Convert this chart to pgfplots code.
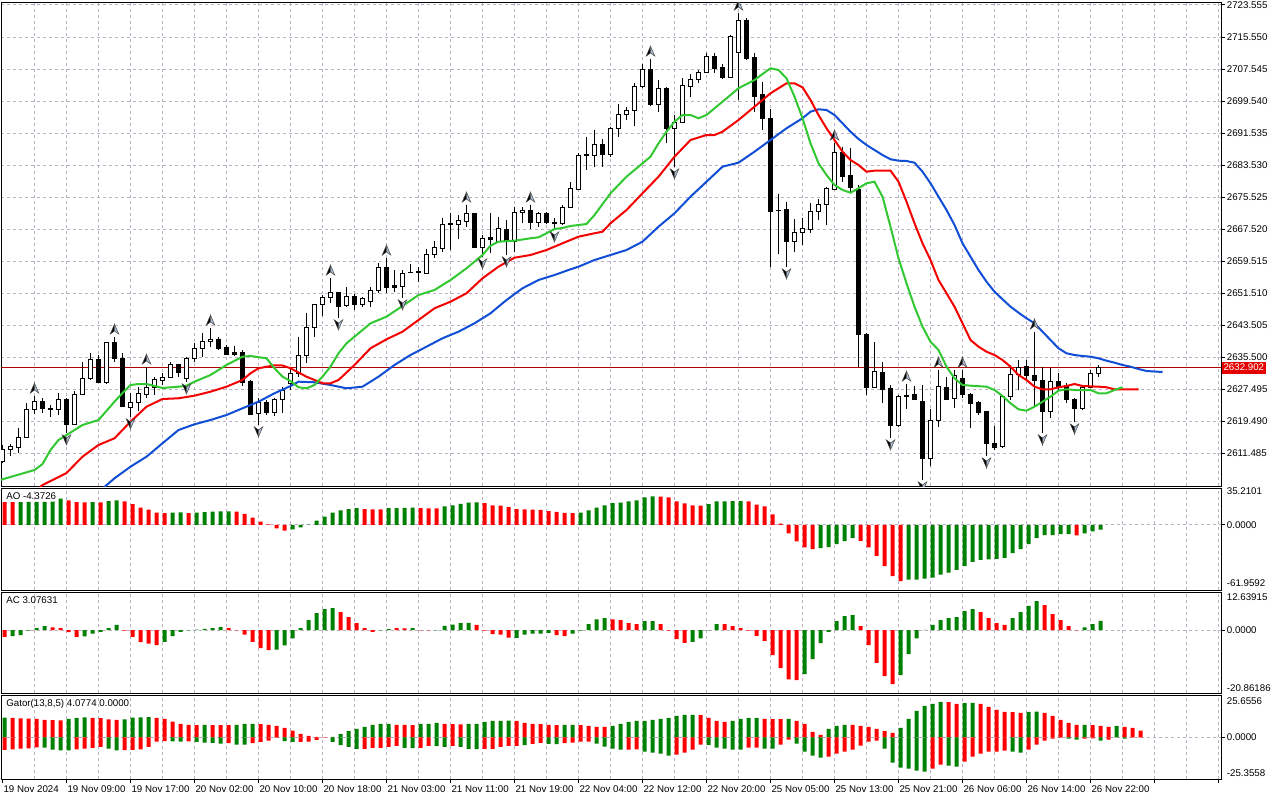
\documentclass[border=0pt]{standalone}
\usepackage{fontspec}
\setmainfont{Liberation Sans}
\usepackage{pgfplots}
\usepackage{pgfplotstable}
\pgfplotsset{compat=1.18}

\definecolor{mtgreen}{RGB}{0,128,0}
\definecolor{mtred}{RGB}{255,0,0}
\definecolor{jaw}{RGB}{16,78,214}
\definecolor{teeth}{RGB}{245,0,0}
\definecolor{lips}{RGB}{50,200,50}
\definecolor{gridc}{RGB}{190,176,196}
\definecolor{bidline}{RGB}{176,0,0}
\definecolor{pricebox}{RGB}{228,0,0}
\definecolor{fracfill}{RGB}{170,185,210}

\pgfplotstableread{
k O H L C
0 2609.55 2613.55 2609.05 2612.55
1 2612.55 2613.80 2610.80 2613.30
2 2613.05 2617.80 2611.55 2615.55
3 2615.55 2624.05 2615.55 2622.55
4 2622.55 2625.80 2621.30 2624.55
5 2624.55 2625.30 2621.55 2622.80
6 2622.68 2623.55 2620.55 2622.43
7 2622.55 2626.55 2621.05 2625.05
8 2625.05 2625.30 2616.55 2618.80
9 2618.80 2627.05 2618.55 2626.30
10 2626.30 2634.30 2626.05 2630.30
11 2630.30 2636.55 2629.80 2635.05
12 2635.05 2636.05 2629.05 2629.30
13 2629.30 2639.30 2628.80 2639.30
14 2639.30 2640.55 2634.30 2635.30
15 2635.30 2636.55 2623.05 2623.30
16 2623.05 2626.55 2620.55 2624.30
17 2624.30 2628.05 2622.05 2626.55
18 2626.30 2633.05 2625.30 2628.05
19 2628.05 2630.55 2626.05 2630.05
20 2629.80 2631.55 2628.55 2630.55
21 2630.55 2634.30 2630.30 2633.80
22 2633.80 2633.80 2630.55 2631.80
23 2630.30 2635.55 2629.30 2635.30
24 2635.30 2639.05 2634.30 2637.80
25 2637.80 2641.55 2635.55 2639.55
26 2639.55 2642.80 2638.05 2640.05
27 2640.05 2640.55 2637.30 2637.80
28 2638.05 2638.55 2636.05 2636.30
29 2636.80 2638.30 2635.80 2636.30
30 2636.80 2637.30 2628.30 2629.30
31 2629.55 2629.80 2621.05 2621.30
32 2621.55 2625.30 2618.55 2624.30
33 2624.30 2624.80 2621.05 2621.80
34 2621.80 2625.30 2620.80 2625.05
35 2625.05 2628.05 2621.55 2627.30
36 2629.05 2633.05 2627.30 2631.55
37 2631.55 2640.55 2630.55 2636.05
38 2636.05 2646.55 2634.05 2643.05
39 2643.05 2648.80 2640.55 2648.80
40 2648.80 2651.05 2645.80 2650.55
41 2650.55 2655.30 2649.05 2651.80
42 2651.80 2651.80 2645.30 2648.30
43 2648.55 2653.05 2648.05 2650.80
44 2650.80 2651.30 2647.30 2648.80
45 2648.80 2650.55 2648.05 2650.30
46 2649.55 2653.05 2648.05 2652.30
47 2652.30 2659.05 2651.55 2658.05
48 2658.05 2660.30 2651.55 2653.05
49 2653.55 2657.30 2651.80 2653.05
50 2653.30 2657.30 2650.30 2656.55
51 2656.80 2658.80 2656.55 2656.68
52 2656.93 2658.05 2654.30 2656.80
53 2656.55 2662.55 2656.55 2661.30
54 2661.30 2664.55 2660.30 2663.05
55 2662.80 2670.30 2661.80 2668.80
56 2668.80 2671.55 2662.30 2668.90
57 2668.80 2671.05 2665.05 2669.80
58 2669.55 2673.55 2668.05 2671.55
59 2671.55 2671.55 2662.80 2663.05
60 2663.05 2666.05 2660.55 2665.30
61 2665.55 2671.55 2661.55 2665.05
62 2664.55 2670.55 2664.30 2667.80
63 2667.55 2669.80 2661.05 2664.55
64 2664.55 2673.05 2661.80 2671.80
65 2671.80 2673.05 2669.05 2672.30
66 2672.30 2673.55 2667.55 2669.30
67 2669.30 2671.80 2668.05 2671.55
68 2671.55 2671.80 2668.80 2669.30
69 2669.30 2670.30 2667.30 2669.05
70 2669.05 2673.55 2668.55 2673.05
71 2673.05 2679.30 2672.80 2677.80
72 2677.55 2686.55 2677.30 2686.05
73 2686.05 2690.55 2682.30 2686.18
74 2686.05 2692.30 2683.05 2688.80
75 2688.80 2690.05 2683.05 2686.30
76 2686.30 2693.05 2685.55 2692.80
77 2692.80 2698.80 2690.55 2696.30
78 2696.30 2698.05 2694.80 2697.30
79 2697.30 2704.05 2693.30 2703.30
80 2703.30 2708.80 2702.80 2707.55
81 2707.55 2710.05 2698.30 2698.80
82 2698.80 2704.80 2696.80 2702.80
83 2702.80 2703.05 2689.05 2692.80
84 2692.80 2696.05 2683.05 2694.30
85 2694.30 2705.30 2694.05 2703.55
86 2703.30 2706.30 2700.55 2705.05
87 2705.05 2707.30 2704.05 2706.80
88 2706.80 2711.55 2706.55 2710.80
89 2710.80 2711.55 2706.55 2707.80
90 2708.05 2708.80 2705.05 2705.55
91 2705.55 2716.05 2705.55 2715.80
92 2711.80 2721.55 2699.80 2719.80
93 2719.80 2720.30 2709.80 2710.30
94 2710.55 2711.55 2696.80 2700.80
95 2701.30 2704.30 2692.30 2695.30
96 2695.30 2697.55 2658.05 2672.05
97 2672.30 2676.30 2661.30 2672.18
98 2672.55 2674.30 2658.05 2664.55
99 2664.55 2670.05 2661.80 2666.80
100 2666.80 2670.30 2663.55 2667.80
101 2667.55 2674.05 2666.55 2672.05
102 2672.05 2675.05 2669.80 2673.80
103 2673.80 2678.05 2668.55 2677.80
104 2677.55 2689.05 2677.30 2686.80
105 2686.80 2688.05 2679.30 2680.80
106 2681.05 2687.80 2676.80 2678.05
107 2677.55 2678.55 2633.05 2641.30
108 2641.30 2641.55 2626.05 2628.05
109 2628.05 2639.30 2628.05 2632.05
110 2631.80 2634.30 2624.05 2627.55
111 2627.80 2628.55 2615.30 2618.55
112 2618.55 2626.05 2618.05 2625.80
113 2625.93 2628.80 2622.55 2625.80
114 2626.30 2628.30 2624.80 2625.05
115 2624.55 2628.55 2604.80 2610.30
116 2610.30 2622.55 2608.30 2619.80
117 2619.80 2632.30 2618.05 2628.30
118 2628.05 2630.55 2624.80 2625.05
119 2625.30 2632.30 2622.80 2631.05
120 2630.30 2632.30 2625.30 2626.30
121 2626.30 2626.55 2617.80 2624.05
122 2624.30 2624.55 2621.05 2621.80
123 2622.05 2622.05 2610.80 2614.05
124 2614.05 2618.30 2612.30 2613.05
125 2613.30 2626.05 2612.80 2625.80
126 2625.80 2633.55 2624.80 2631.30
127 2631.30 2634.80 2627.30 2633.05
128 2633.30 2634.80 2629.80 2631.05
129 2631.05 2641.80 2623.05 2629.80
130 2629.80 2633.05 2616.55 2622.05
131 2622.05 2632.80 2620.30 2629.55
132 2629.55 2631.55 2627.30 2628.30
133 2628.55 2629.05 2624.05 2625.05
134 2625.05 2625.30 2619.30 2622.80
135 2622.80 2628.05 2622.30 2628.05
136 2628.05 2632.30 2627.80 2631.55
137 2631.55 2633.55 2630.55 2632.90
}\candles

\pgfplotstableread{
k v
-1 2604.5
0 2604.98
4 2607.3
5 2608.8
6 2612.3
7 2614.8
8 2616.05
10 2618.55
12 2619.8
14 2624.38
15 2626.55
16 2628.55
17 2628.8
18 2628.8
20 2627.8
22 2628.13
23 2628.38
24 2629.38
26 2631.05
28 2633.55
30 2635.63
31 2635.8
33 2635.23
34 2632.73
35 2630.63
36 2629.55
37 2627.98
38 2627.73
39 2628.55
40 2630.63
41 2633.13
42 2636.48
43 2638.98
44 2640.63
46 2643.98
48 2645.63
50 2648.3
52 2651.05
54 2652.3
56 2654.8
58 2657.73
60 2661.05
61 2663.38
62 2664.38
64 2664.63
66 2665.23
67 2665.48
68 2666.48
69 2667.55
70 2667.8
71 2668.3
72 2668.55
73 2668.8
74 2671.05
76 2676.48
78 2680.63
80 2683.98
81 2685.63
82 2688.98
83 2691.88
84 2694.38
85 2696.05
86 2696.05
87 2695.23
88 2696.05
90 2699.38
92 2702.73
94 2704.8
95 2706.3
96 2707.73
97 2707.3
98 2705.23
99 2700.63
100 2695.23
101 2688.98
102 2683.98
103 2681.05
104 2678.55
105 2677.3
106 2676.63
107 2677.73
108 2678.98
109 2679.38
110 2675.63
111 2668.13
112 2660.23
113 2653.98
114 2648.13
115 2643.13
116 2639.38
117 2637.3
118 2633.13
119 2630.23
120 2628.55
121 2628.38
123 2628.13
124 2627.3
125 2625.8
126 2623.98
127 2622.48
128 2622.13
129 2623.13
130 2624.38
131 2625.63
132 2627.13
133 2627.48
134 2627.3
136 2627.3
137 2626.48
138 2626.48
139 2627.3
140 2627.98
}\lipsline

\pgfplotstableread{
k v
4 2601.8
5 2603.55
8 2606.55
10 2610.63
12 2613.55
14 2615.23
16 2619.38
18 2623.13
20 2625.05
22 2625.23
24 2625.88
26 2626.88
28 2628.13
30 2629.8
31 2631.48
32 2632.73
34 2633.48
35 2633.43
36 2632.73
38 2630.63
40 2628.98
41 2628.98
42 2629.8
44 2633.55
46 2637.73
48 2639.98
50 2641.88
52 2644.8
54 2647.73
56 2649.38
58 2651.48
60 2655.23
62 2658.13
64 2660.38
66 2661.05
68 2662.3
70 2663.98
72 2665.63
74 2666.48
75 2666.88
76 2668.98
78 2672.3
80 2676.48
82 2680.63
84 2685.63
86 2689.8
88 2691.05
89 2691.05
90 2691.88
92 2694.8
94 2698.13
96 2701.48
98 2703.98
99 2703.98
100 2702.98
101 2699.8
102 2696.05
103 2692.73
104 2689.8
105 2686.88
106 2684.8
107 2683.55
108 2681.88
109 2682.13
111 2682.13
112 2679.38
113 2674.38
114 2668.98
115 2663.98
116 2659.8
117 2654.8
118 2651.48
119 2648.13
120 2643.98
121 2639.8
122 2638.13
123 2636.88
124 2636.05
125 2634.8
126 2633.13
127 2631.05
128 2629.8
129 2628.13
130 2627.48
131 2627.48
132 2627.98
133 2628.3
134 2628.8
135 2628.3
137 2628.13
138 2627.98
139 2627.48
142 2627.48
}\teethline

\pgfplotstableread{
k v
12 2601.8
14 2605.23
16 2608.13
18 2610.63
20 2613.98
22 2617.3
24 2618.73
26 2619.8
28 2621.05
30 2622.73
32 2624.38
34 2626.48
36 2628.3
37 2629.38
39 2629.23
41 2628.55
43 2627.73
45 2628.13
47 2630.63
49 2633.55
51 2636.05
53 2638.13
55 2640.23
57 2641.88
59 2643.98
61 2646.48
63 2649.8
65 2652.73
67 2654.8
69 2656.05
71 2657.48
72 2658.13
74 2659.8
76 2661.05
78 2662.3
80 2664.38
82 2668.13
84 2671.48
86 2675.63
88 2679.38
90 2683.13
92 2684.13
94 2686.88
96 2689.8
98 2692.73
100 2695.23
101 2696.88
102 2697.48
103 2697.3
104 2696.05
105 2693.98
106 2691.88
107 2690.05
108 2688.55
109 2687.3
110 2686.05
111 2684.98
112 2684.63
113 2684.55
114 2684.13
115 2681.88
116 2678.98
117 2675.63
118 2672.3
119 2668.55
120 2663.98
121 2660.63
122 2657.3
123 2654.38
124 2651.88
125 2649.98
126 2648.13
127 2646.63
128 2645.23
129 2643.98
130 2641.88
131 2639.8
132 2637.73
133 2636.48
134 2636.05
135 2635.8
136 2635.63
137 2635.23
138 2634.63
139 2634.13
140 2633.55
141 2633.13
142 2632.55
143 2632.05
145 2631.8
}\jawline

\pgfplotstableread{
k v
4 2625.80
14 2640.55
18 2633.05
26 2642.80
41 2655.30
48 2660.30
58 2673.55
66 2673.55
81 2710.05
92 2721.55
104 2689.05
113 2628.80
117 2632.30
120 2632.30
129 2641.80
}\fracup

\pgfplotstableread{
k v
8 2616.55
16 2620.55
23 2629.30
32 2618.55
42 2645.30
50 2650.30
60 2660.55
63 2661.05
69 2667.30
84 2683.05
98 2658.05
111 2615.30
115 2604.80
123 2610.80
130 2616.55
134 2619.30
}\fracdown

% AO: v = value, g = 1 for a green bar, 0 for a red bar
\pgfplotstableread{
k v g
0 21.8 0
1 21.7 0
2 21.8 1
3 21.9 1
4 22.0 1
5 22.1 1
6 22.2 1
7 25.0 1
8 23.4 0
9 21.8 0
10 21.6 0
11 21.8 1
12 21.6 0
13 22.7 1
14 23.4 1
15 22.4 0
16 19.8 0
17 16.6 0
18 14.7 0
19 11.8 0
20 11.2 0
21 11.8 1
22 12.0 1
23 11.2 0
24 11.8 1
25 12.2 1
26 12.8 1
27 12.9 1
28 13.0 1
29 12.8 0
30 10.6 0
31 7.0 0
32 3.2 0
33 0.6 0
34 -3.2 0
35 -5.4 0
36 -4.2 1
37 -2.2 1
38 0.3 1
39 4.2 1
40 8.0 1
41 11.8 1
42 13.8 1
43 15.0 1
44 16.0 1
45 15.0 0
46 14.9 0
47 14.8 0
48 16.0 1
49 16.1 1
50 16.2 1
51 16.6 1
52 16.0 0
53 15.9 0
54 15.8 0
55 17.6 1
56 18.6 1
57 20.2 1
58 21.4 1
59 21.5 1
60 20.8 0
61 18.6 0
62 18.5 0
63 17.0 0
64 15.0 0
65 14.9 0
66 14.7 0
67 14.4 0
68 13.1 0
69 12.5 0
70 11.5 0
71 11.2 0
72 11.8 1
73 13.8 1
74 16.6 1
75 18.6 1
76 20.8 1
77 21.4 1
78 22.4 1
79 23.4 1
80 26.2 1
81 27.2 1
82 27.1 0
83 26.2 0
84 22.4 0
85 20.5 0
86 18.6 0
87 18.5 0
88 19.8 1
89 22.4 1
90 22.5 1
91 22.6 1
92 22.7 1
93 22.5 0
94 19.5 0
95 17.6 0
96 10.2 0
97 1.3 0
98 -7.9 0
99 -15.7 0
100 -21.4 0
101 -22.9 0
102 -22.0 1
103 -21.0 1
104 -18.2 1
105 -15.4 1
106 -12.6 1
107 -15.1 0
108 -21.4 0
109 -29.5 0
110 -39.3 0
111 -48.7 0
112 -53.4 0
113 -52.1 1
114 -52.0 1
115 -51.2 1
116 -50.2 1
117 -47.4 1
118 -45.5 1
119 -42.7 1
120 -39.3 1
121 -35.2 1
122 -33.3 1
123 -32.7 1
124 -32.3 1
125 -31.4 1
126 -26.7 1
127 -22.9 1
128 -18.2 1
129 -12.6 1
130 -9.7 1
131 -9.6 1
132 -8.8 1
133 -8.7 1
134 -10.0 0
135 -7.9 1
136 -6.0 1
137 -4.37 1
}\aodata

\pgfplotstableread{
k v g
0 -2.2 0
1 -2.0 1
2 -1.7 1
3 -0.2 1
4 0.7 1
5 1.3 1
6 0.9 0
7 0.7 0
8 -0.7 0
9 -2.2 0
10 -2.1 1
11 -1.2 1
12 -0.6 1
13 0.7 1
14 1.7 1
15 -0.2 0
16 -2.2 0
17 -4.0 0
18 -4.5 0
19 -5.0 0
20 -3.9 1
21 -2.0 1
22 -0.6 1
23 -0.1 1
24 0.2 1
25 0.4 1
26 0.7 1
27 1.0 1
28 0.7 0
29 -0.1 0
30 -1.5 0
31 -3.9 0
32 -6.0 0
33 -6.6 0
34 -6.5 1
35 -5.1 1
36 -2.7 1
37 0.7 1
38 3.3 1
39 5.6 1
40 7.0 1
41 7.3 1
42 6.0 0
43 4.3 0
44 2.3 0
45 0.7 0
46 -0.6 0
47 -0.1 1
48 0.3 1
49 0.7 0
50 0.6 0
51 0.7 1
52 -0.1 0
53 -0.1 0
54 -0.05 1
55 1.4 1
56 1.8 1
57 2.3 1
58 2.4 1
59 1.7 0
60 -0.2 0
61 -1.3 0
62 -1.5 0
63 -2.5 0
64 -2.6 1
65 -1.5 1
66 -1.2 1
67 -1.2 1
68 -0.9 1
69 -1.7 0
70 -2.0 0
71 -1.2 1
72 -0.2 1
73 2.0 1
74 3.6 1
75 4.0 1
76 3.6 0
77 3.3 0
78 2.3 0
79 2.0 0
80 3.0 1
81 3.0 1
82 2.0 0
83 -0.2 0
84 -3.0 0
85 -4.2 0
86 -3.9 1
87 -2.7 1
88 -0.1 1
89 2.0 1
90 2.0 0
91 1.3 0
92 0.7 0
93 -0.2 0
94 -1.9 0
95 -3.6 0
96 -8.3 0
97 -12.6 0
98 -16.3 0
99 -16.6 0
100 -14.6 1
101 -9.6 1
102 -4.3 1
103 -0.6 1
104 3.0 1
105 4.6 1
106 5.0 1
107 1.3 0
108 -5.0 0
109 -10.9 0
110 -15.3 0
111 -17.9 0
112 -14.9 1
113 -8.0 1
114 -2.7 1
115 0.1 1
116 1.7 1
117 3.3 1
118 4.0 1
119 4.3 1
120 6.3 1
121 7.0 1
122 6.0 0
123 4.0 0
124 2.3 0
125 1.7 0
126 4.0 1
127 6.0 1
128 8.0 1
129 9.6 1
130 8.3 0
131 5.3 0
132 3.3 0
133 1.3 0
134 -0.1 0
135 0.9 1
136 2.0 1
137 3.08 1
}\acdata

% Gator: up/lo = upper/lower histogram, ug/lg = 1 for green, 0 for red
\pgfplotstableread{
k up ug lo lg
0 11.9 1 -7.7 0
1 11.7 0 -7.3 0
2 11.5 0 -6.9 0
3 11.3 0 -6.7 0
4 11.1 0 -6.1 0
5 10.5 0 -6.3 1
6 10.4 0 -7.5 1
7 10.3 0 -7.9 1
8 11.1 1 -8.0 1
9 11.7 1 -7.3 0
10 12.1 1 -6.9 0
11 11.7 0 -6.5 0
12 11.6 0 -5.9 0
13 10.9 0 -6.9 1
14 10.5 0 -7.9 1
15 10.9 1 -7.8 0
16 11.9 1 -7.7 0
17 12.1 1 -7.3 0
18 12.3 1 -5.9 0
19 11.7 0 -2.6 0
20 11.1 0 -2.4 0
21 9.5 0 -2.45 1
22 8.1 0 -2.6 1
23 7.5 0 -2.55 0
24 7.4 0 -2.8 1
25 7.5 1 -3.2 1
26 7.4 0 -3.4 1
27 7.35 0 -3.8 1
28 7.3 0 -3.6 0
29 7.5 1 -4.5 1
30 8.1 1 -4.5 1
31 8.15 1 -3.6 0
32 8.0 0 -2.8 0
33 7.5 0 -2.0 0
34 6.9 0 -0.2 0
35 5.7 0 -2.3 1
36 4.0 0 -2.8 1
37 2.0 0 -2.8 0
38 0.8 0 -2.6 0
39 0.2 0 -1.6 0
40 0.05 0 -0.1 0
41 0.2 1 -2.8 1
42 2.0 1 -4.7 1
43 3.8 1 -5.9 1
44 5.1 1 -7.1 1
45 6.3 1 -7.1 0
46 7.5 1 -6.5 0
47 8.1 1 -6.5 0
48 8.15 1 -5.9 0
49 7.5 0 -5.3 0
50 7.45 0 -6.5 1
51 7.4 0 -6.55 1
52 8.1 1 -6.5 0
53 8.15 1 -5.3 0
54 8.7 1 -5.35 1
55 8.1 0 -5.9 1
56 8.0 0 -5.3 0
57 7.9 0 -5.9 1
58 8.1 1 -7.1 1
59 8.2 1 -7.15 1
60 9.3 1 -7.1 0
61 9.9 1 -7.0 0
62 10.0 1 -5.9 0
63 10.1 1 -5.3 0
64 9.9 0 -5.2 0
65 8.7 0 -4.7 1
66 8.1 0 -4.0 0
67 8.0 0 -3.4 0
68 7.5 0 -4.0 1
69 7.4 0 -4.1 1
70 7.5 1 -3.6 0
71 7.55 1 -3.2 0
72 7.4 0 -2.6 0
73 6.9 0 -2.6 0
74 6.3 0 -3.8 1
75 6.25 0 -5.7 1
76 6.9 1 -6.9 1
77 8.1 1 -7.5 1
78 9.3 1 -7.5 0
79 9.9 1 -7.4 0
80 9.95 1 -8.7 1
81 10.5 1 -9.3 1
82 11.1 1 -9.9 1
83 11.7 1 -11.1 1
84 13.0 1 -10.5 0
85 13.6 1 -9.3 0
86 13.65 1 -7.5 0
87 13.5 0 -4.5 0
88 11.7 0 -4.55 1
89 9.9 0 -6.3 1
90 9.3 0 -6.9 1
91 9.9 1 -7.5 1
92 11.1 1 -7.55 1
93 11.7 1 -6.3 0
94 11.75 1 -6.25 0
95 11.1 0 -6.9 1
96 11.05 0 -6.95 1
97 11.0 0 -4.5 0
98 11.1 1 -1.4 0
99 9.9 0 -3.8 1
100 8.1 0 -8.7 1
101 3.2 0 -11.1 1
102 1.4 0 -12.3 1
103 5.1 1 -11.7 0
104 6.9 1 -9.9 0
105 7.5 1 -8.7 0
106 7.45 0 -7.5 0
107 6.9 0 -5.1 0
108 6.3 0 -2.6 0
109 5.1 0 -2.0 0
110 3.8 0 -6.9 1
111 2.6 0 -15.4 1
112 5.7 1 -18.4 1
113 11.1 1 -19.0 1
114 16.0 1 -20.2 1
115 19.0 1 -20.8 1
116 20.2 1 -19.0 0
117 21.5 1 -16.6 0
118 21.4 0 -17.2 1
119 20.2 0 -17.8 1
120 20.8 1 -14.8 0
121 20.85 1 -11.7 0
122 20.2 0 -9.9 0
123 18.4 0 -8.7 0
124 16.6 0 -8.65 0
125 15.4 0 -8.1 0
126 15.3 0 -8.7 1
127 14.8 0 -9.3 1
128 15.4 1 -7.5 0
129 15.5 1 -4.5 0
130 14.8 0 -2.0 0
131 13.0 0 -0.8 0
132 10.5 0 -0.2 0
133 8.7 0 -0.8 1
134 7.5 0 -1.4 1
135 7.55 1 -0.8 0
136 7.4 0 -0.75 0
137 6.9 0 -2.0 1
138 6.3 0 -1.4 0
139 6.9 1 0.0 0
140 6.3 0 -0.8 1
141 5.7 0 0.0 0
142 4.08 0 0.0 0
}\gatordata

\pgfdeclareplotmark{fup}{%
  \pgfpathmoveto{\pgfqpoint{0pt}{9.6pt}}%
  \pgfpathlineto{\pgfqpoint{-3.2pt}{2.2pt}}%
  \pgfpathlineto{\pgfqpoint{0pt}{4.5pt}}%
  \pgfpathclose
  \pgfsetfillcolor{black}\pgfusepath{fill,stroke}%
  \pgfpathmoveto{\pgfqpoint{0pt}{9.6pt}}%
  \pgfpathlineto{\pgfqpoint{3.2pt}{2.2pt}}%
  \pgfpathlineto{\pgfqpoint{0pt}{4.5pt}}%
  \pgfpathclose
  \pgfsetfillcolor{fracfill}\pgfusepath{fill,stroke}%
}
\pgfdeclareplotmark{fdown}{%
  \pgfpathmoveto{\pgfqpoint{0pt}{-8.8pt}}%
  \pgfpathlineto{\pgfqpoint{-3.2pt}{-1.4pt}}%
  \pgfpathlineto{\pgfqpoint{0pt}{-3.7pt}}%
  \pgfpathclose
  \pgfsetfillcolor{black}\pgfusepath{fill,stroke}%
  \pgfpathmoveto{\pgfqpoint{0pt}{-8.8pt}}%
  \pgfpathlineto{\pgfqpoint{3.2pt}{-1.4pt}}%
  \pgfpathlineto{\pgfqpoint{0pt}{-3.7pt}}%
  \pgfpathclose
  \pgfsetfillcolor{fracfill}\pgfusepath{fill,stroke}%
}

\pgfplotsset{
  mtaxis/.style={
    scale only axis, anchor=north west, width=915pt,
    xmin=-0.1875, xmax=152.3125, enlargelimits=false,
    clip mode=individual,
    axis line style={black, line width=0.75pt},
    xtick={8,16,...,152}, minor xtick={4,12,...,148},
    xmajorgrids, xminorgrids, ymajorgrids,
    major grid style={gridc, line width=0.75pt, dash pattern=on 2.25pt off 2.25pt},
    minor grid style={gridc, line width=0.75pt, dash pattern=on 2.25pt off 2.25pt},
    xticklabels={},
    tick style={black, line width=0.75pt},
    xtick style={draw=none},
    ytick pos=right, yticklabel pos=right,
    tick align=outside, major tick length=3pt, minor tick length=0pt,
    yticklabel style={anchor=west, inner sep=0pt, xshift=1.2pt},
    tick label style={font=\fontsize{7.3}{8.8}\selectfont},
    unbounded coords=discard,
  },
  histbar/.style={ybar, bar width=3pt, bar shift=1.5pt, draw=none, forget plot},
}

\begin{document}
\begin{tikzpicture}[font=\fontsize{7.3}{8.8}\selectfont]
\path[use as bounding box, fill=white] (0,0) rectangle (960pt,-600pt);

% ---------------- main price panel ----------------
\begin{axis}[mtaxis, at={(0.75pt,-1.5pt)}, height=363pt,
  ymin=2603.3, ymax=2724.3, clip marker paths=true,
  ytick={2611.485,2619.49,2627.495,2635.5,2643.505,2651.51,2659.515,2667.52,2675.525,2683.53,2691.535,2699.54,2707.545,2715.55,2723.555},
  yticklabels={2611.485,2619.490,2627.495,2635.500,2643.505,2651.510,2659.515,2667.520,2675.525,2683.530,2691.535,2699.540,2707.545,2715.550,2723.555}]
\addplot[bidline, line width=0.75pt, forget plot] coordinates {(-1,2632.902) (160,2632.902)};
\pgfplotstablegetrowsof{\candles}
\pgfmathtruncatemacro{\nlast}{\pgfplotsretval-1}
\pgfplotsforeachungrouped \i in {0,...,\nlast}{%
  \pgfplotstablegetelem{\i}{k}\of\candles\let\ck\pgfplotsretval
  \pgfplotstablegetelem{\i}{O}\of\candles\let\co\pgfplotsretval
  \pgfplotstablegetelem{\i}{H}\of\candles\let\ch\pgfplotsretval
  \pgfplotstablegetelem{\i}{L}\of\candles\let\cl\pgfplotsretval
  \pgfplotstablegetelem{\i}{C}\of\candles\let\cc\pgfplotsretval
  \pgfmathsetmacro{\xa}{\ck-0.28}%
  \pgfmathsetmacro{\xb}{\ck+0.28}%
  \pgfmathtruncatemacro{\isup}{\cc>\co}%
  \ifnum\isup=1 \def\bfill{white}\else\def\bfill{black}\fi
  \edef\doplot{%
    \noexpand\addplot[black, line width=0.75pt, forget plot] coordinates {(\ck,\cl) (\ck,\ch)};
    \noexpand\addplot[draw=black, fill=\bfill, line width=0.75pt, forget plot] coordinates {(\xa,\co) (\xb,\co) (\xb,\cc) (\xa,\cc) (\xa,\co)};
  }%
  \doplot
}
\addplot[jaw, line width=1.5pt, forget plot] table[x=k, y=v] {\jawline};
\addplot[teeth, line width=1.5pt, forget plot] table[x=k, y=v] {\teethline};
\addplot[lips, line width=1.5pt, forget plot] table[x=k, y=v] {\lipsline};
\addplot[only marks, mark=fup, mark options={draw=black!75, line width=0.35pt}, forget plot] table[x=k, y=v] {\fracup};
\addplot[only marks, mark=fdown, mark options={draw=black!75, line width=0.35pt}, forget plot] table[x=k, y=v] {\fracdown};
\node[fill=pricebox, text=white, anchor=west, inner xsep=1.3pt, inner ysep=0pt, minimum height=9pt, xshift=0.4pt] at (axis cs:152.3125,2632.902) {2632.902};
\end{axis}

% ---------------- AO ----------------
\begin{axis}[mtaxis, at={(0.75pt,-366pt)}, height=76.5pt,
  ymin=-61.9592, ymax=35.2101, ytick={0}, yticklabels={0.0000}]
\addplot[histbar, fill=mtgreen] table[x=k, y expr={\thisrow{g}>0.5 ? \thisrow{v} : nan}] {\aodata};
\addplot[histbar, fill=mtred] table[x=k, y expr={\thisrow{g}<0.5 ? \thisrow{v} : nan}] {\aodata};
\node[anchor=north west, inner sep=0pt, xshift=3.8pt, yshift=-3pt] at (rel axis cs:0,1) {AO -4.3726};
\node[anchor=west, inner sep=0pt, xshift=4.2pt, yshift=-2.3pt] at (rel axis cs:1,1) {35.2101};
\node[anchor=west, inner sep=0pt, xshift=4.2pt, yshift=5.2pt] at (rel axis cs:1,0) {-61.9592};
\end{axis}

% ---------------- AC ----------------
\begin{axis}[mtaxis, at={(0.75pt,-444pt)}, height=75.75pt,
  ymin=-20.86186, ymax=12.63915, ytick={0}, yticklabels={0.0000}]
\addplot[histbar, fill=mtgreen] table[x=k, y expr={\thisrow{g}>0.5 ? \thisrow{v} : nan}] {\acdata};
\addplot[histbar, fill=mtred] table[x=k, y expr={\thisrow{g}<0.5 ? \thisrow{v} : nan}] {\acdata};
\node[anchor=north west, inner sep=0pt, xshift=3.8pt, yshift=-3pt] at (rel axis cs:0,1) {AC 3.07631};
\node[anchor=west, inner sep=0pt, xshift=4.2pt, yshift=-3.8pt] at (rel axis cs:1,1) {12.63915};
\node[anchor=west, inner sep=0pt, xshift=4.2pt, yshift=3.8pt] at (rel axis cs:1,0) {-20.86186};
\end{axis}

% ---------------- Gator ----------------
\begin{axis}[mtaxis, at={(0.75pt,-521.25pt)}, height=63pt,
  ymin=-25.3558, ymax=25.6556, ytick={0}, yticklabels={0.0000},
  xtick style={draw=black}, xtick pos=lower,
  xticklabels={19 Nov 09:00,19 Nov 17:00,20 Nov 02:00,20 Nov 10:00,20 Nov 18:00,21 Nov 03:00,21 Nov 11:00,21 Nov 19:00,22 Nov 04:00,22 Nov 12:00,22 Nov 20:00,25 Nov 05:00,25 Nov 13:00,25 Nov 21:00,26 Nov 06:00,26 Nov 14:00,26 Nov 22:00,,},
  extra x ticks={0}, extra x tick labels={19 Nov 2024}, extra x tick style={grid=none},
  xticklabel style={anchor=north west, inner sep=0pt, xshift=0.6pt, yshift=-1.5pt}]
\addplot[histbar, fill=mtgreen] table[x=k, y expr={\thisrow{ug}>0.5 ? \thisrow{up} : nan}] {\gatordata};
\addplot[histbar, fill=mtred] table[x=k, y expr={\thisrow{ug}<0.5 ? \thisrow{up} : nan}] {\gatordata};
\addplot[histbar, fill=mtgreen] table[x=k, y expr={\thisrow{lg}>0.5 ? \thisrow{lo} : nan}] {\gatordata};
\addplot[histbar, fill=mtred] table[x=k, y expr={\thisrow{lg}<0.5 ? \thisrow{lo} : nan}] {\gatordata};
\node[anchor=north west, inner sep=0pt, xshift=3.8pt, yshift=-3.5pt] at (rel axis cs:0,1) {Gator(13,8,5) 4.0774 0.0000};
\node[anchor=west, inner sep=0pt, xshift=4.2pt, yshift=-4.5pt] at (rel axis cs:1,1) {25.6556};
\node[anchor=west, inner sep=0pt, xshift=4.2pt, yshift=4.5pt] at (rel axis cs:1,0) {-25.3558};
\end{axis}
\end{tikzpicture}
\end{document}
